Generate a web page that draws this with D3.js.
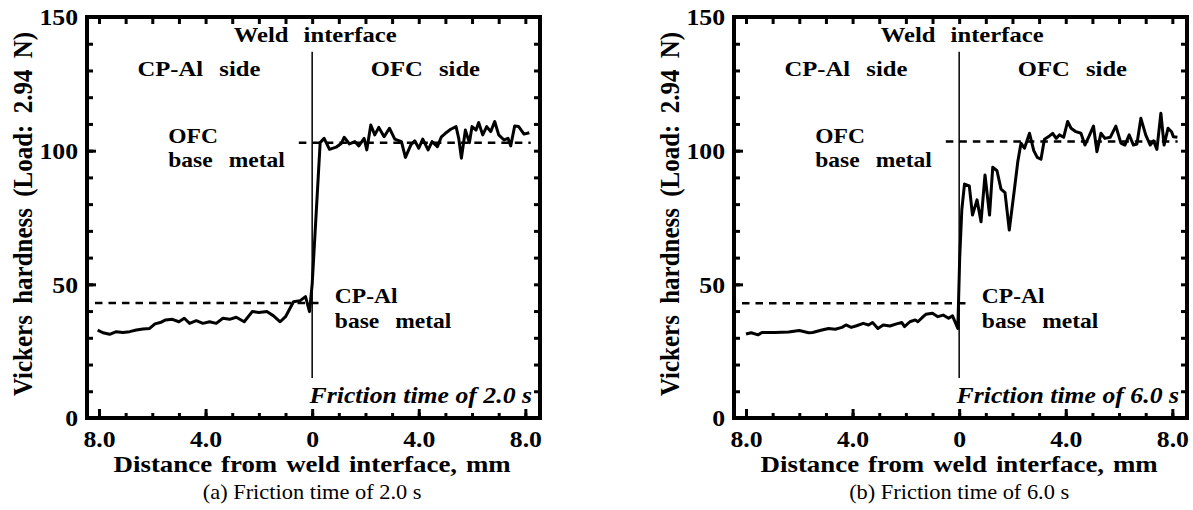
<!DOCTYPE html>
<html>
<head>
<meta charset="utf-8">
<script src="https://cdn.jsdelivr.net/npm/d3@7"></script>
<style>
  body { margin: 0; background: #fff; }
  text { font-family: "Liberation Serif", "Times New Roman", serif; fill: #000; }
</style>
</head>
<body>
<script>
// hardness profiles, distance in mm (negative = CP-Al side)
const distA = [-8.05,-7.85,-7.6,-7.35,-7.1,-6.85,-6.6,-6.35,-6.1,-5.9,-5.7,-5.5,-5.25,-5.0,-4.8,-4.6,-4.35,-4.1,-3.85,-3.6,-3.35,-3.1,-2.85,-2.55,-2.25,-2.0,-1.7,-1.45,-1.2,-1.0,-0.8,-0.7,-0.45,-0.25,-0.1,0.0,
  0.3,0.45,0.65,0.9,1.1,1.2,1.4,1.6,1.75,1.95,2.05,2.2,2.35,2.5,2.7,2.9,3.1,3.35,3.5,3.7,3.85,4.0,4.15,4.35,4.5,4.7,4.85,5.0,5.2,5.4,5.5,5.6,5.75,5.9,6.0,6.15,6.25,6.4,6.55,6.7,6.85,7.0,7.2,7.35,7.45,7.6,7.75,7.95,8.15];
const hvA = [32.9,31.9,31.3,32.3,32.0,32.3,32.9,33.3,33.5,35.2,35.7,36.7,36.9,36.0,37.3,35.4,36.4,35.4,36.0,35.4,37.3,36.9,37.7,36.0,39.8,39.5,39.8,38.2,36.0,37.9,41.6,43.5,43.9,45.4,39.8,50.0,
  103.0,104.6,100.5,101.3,102.8,105.0,102.5,103.4,101.8,104.6,100.3,109.6,105.9,108.7,105.2,108.4,104.3,103.4,97.5,102.1,103.7,100.9,104.3,100.3,103.4,101.5,105.2,106.5,108.0,109.0,104.6,97.2,107.7,103.0,109.0,107.7,110.5,105.9,109.0,107.1,110.9,105.9,104.0,104.6,101.8,109.2,109.0,106.2,106.7];

const distB = [-8.0,-7.8,-7.55,-7.4,-6.9,-6.4,-6.0,-5.65,-5.5,-5.15,-4.9,-4.65,-4.4,-4.25,-4.05,-3.85,-3.6,-3.4,-3.25,-3.05,-2.85,-2.6,-2.35,-2.15,-2.05,-1.85,-1.65,-1.55,-1.35,-1.25,-1.0,-0.8,-0.6,-0.4,-0.25,-0.05,
  0.02,0.1,0.2,0.38,0.5,0.67,0.82,0.97,1.14,1.26,1.42,1.57,1.72,1.88,2.07,2.2,2.32,2.45,2.64,2.8,2.93,3.07,3.2,3.39,3.51,3.64,3.76,3.92,4.07,4.2,4.38,4.57,4.72,4.88,5.04,5.17,5.32,5.47,5.67,5.88,6.07,6.22,6.38,6.54,6.67,6.82,7.0,7.17,7.29,7.42,7.57,7.69,7.84,7.97,8.04,8.19];
const hvB = [31.4,31.9,31.1,32.0,32.0,32.2,32.7,31.9,32.0,32.9,33.5,33.2,33.9,34.8,33.9,34.5,35.4,34.8,35.7,33.5,34.8,34.4,35.2,35.7,34.2,36.0,36.7,36.0,37.9,38.8,39.2,37.9,38.5,37.3,38.2,33.5,
  60.0,78.0,87.5,86.8,75.9,81.6,73.4,90.9,75.9,93.8,92.5,85.6,84.3,70.3,85.3,95.9,102.8,100.9,106.5,100.0,97.5,96.8,104.3,105.5,106.5,104.6,105.9,105.0,110.9,108.4,107.1,106.5,102.1,105.5,109.2,99.6,106.5,104.6,105.0,109.2,102.8,102.1,105.9,102.1,102.5,112.1,105.9,102.1,103.7,100.5,114.0,102.1,108.4,107.1,105.2,105.0];

// base metal hardness levels (dashed lines)
const ofcBase = [103.0, 103.4];
const alBase = [43.0, 42.9];
const frictionTimes = ["2.0", "6.0"];
const panelTags = ["(a)", "(b)"];

const xMajor = [-8, -4, 0, 4, 8];
const xMinor = d3.range(-8, 9, 1);
const yMajor = [0, 50, 100, 150];
const yMinor = d3.range(0, 151, 10);

const W = 1193, H = 510;
const SX = 1.12; // the original lettering is a bit wider than Times
const panelW = 453, plotTop = 17, plotBottom = 418;

const svg = d3.select("body").append("svg")
    .attr("width", W)
    .attr("height", H);

function label(g, x, y, str, o) {
  return g.append("text")
      .attr("transform", `translate(${x},${y}) scale(${SX},1)` + (o.rotate ? ` rotate(${o.rotate})` : ""))
      .attr("text-anchor", o.anchor || "start")
      .style("font-size", o.size + "px")
      .style("font-weight", o.weight || "bold")
      .style("font-style", o.italic ? "italic" : "normal")
      .style("word-spacing", (o.ws || 0) + "px")
      .text(str);
}

function panel(left, dist, hv, i) {
  const x = d3.scaleLinear().domain([-8.45, 8.55]).range([left, left + panelW]);
  const y = d3.scaleLinear().domain([0, 150]).range([plotBottom, plotTop]);
  const g = svg.append("g");

  const fmtX = d => d === 0 ? "0" : Math.abs(d).toFixed(1);

  // minor ticks
  g.append("g").attr("transform", `translate(0,${plotBottom})`)
      .call(d3.axisBottom(x).tickValues(xMinor).tickSize(-5).tickFormat(""));
  g.append("g").attr("transform", `translate(0,${plotTop})`)
      .call(d3.axisTop(x).tickValues(xMinor).tickSize(-7).tickFormat(""));
  g.append("g").attr("transform", `translate(${left},0)`)
      .call(d3.axisLeft(y).tickValues(yMinor).tickSize(-6).tickFormat(""));
  g.append("g").attr("transform", `translate(${left + panelW},0)`)
      .call(d3.axisRight(y).tickValues(yMinor).tickSize(-6).tickFormat(""));

  // major ticks with labels
  const xa = g.append("g").attr("transform", `translate(0,${plotBottom})`)
      .call(d3.axisBottom(x).tickValues(xMajor).tickSize(-9).tickPadding(13).tickFormat(fmtX));
  const ya = g.append("g").attr("transform", `translate(${left},0)`)
      .call(d3.axisLeft(y).tickValues(yMajor).tickSize(-9).tickPadding(8));

  g.selectAll(".domain").remove();
  g.selectAll(".tick line").attr("stroke", "#000").attr("stroke-width", 3);
  [xa, ya].forEach(a => a.selectAll("text")
      .attr("transform", `scale(${SX},1)`)
      .style("font-size", "23px")
      .style("font-weight", "bold")
      .attr("fill", "#000"));
  ya.selectAll("text").attr("dy", "0.34em");

  // frame
  g.append("rect")
      .attr("x", left).attr("y", plotTop)
      .attr("width", panelW).attr("height", plotBottom - plotTop)
      .attr("fill", "none")
      .attr("stroke", "#000")
      .attr("stroke-width", 4);

  // weld interface line
  g.append("line")
      .attr("x1", x(0)).attr("x2", x(0))
      .attr("y1", y(137)).attr("y2", y(15))
      .attr("stroke", "#000").attr("stroke-width", 1.5);

  // base metal levels
  g.append("line")
      .attr("x1", x(-0.5)).attr("x2", x(8.2))
      .attr("y1", y(ofcBase[i])).attr("y2", y(ofcBase[i]))
      .attr("stroke", "#000").attr("stroke-width", 2.5).attr("stroke-dasharray", "7.5,6");
  g.append("line")
      .attr("x1", x(-8.15)).attr("x2", x(0.35))
      .attr("y1", y(alBase[i])).attr("y2", y(alBase[i]))
      .attr("stroke", "#000").attr("stroke-width", 2.5).attr("stroke-dasharray", "7.5,6");

  // hardness profile
  const line = d3.line().x(d => x(d[0])).y(d => y(d[1]));
  g.append("path")
      .datum(d3.zip(dist, hv))
      .attr("d", line)
      .attr("fill", "none")
      .attr("stroke", "#000")
      .attr("stroke-width", 3)
      .attr("stroke-linejoin", "round");

  // annotations
  label(g, x(0) + 3, 42, "Weld interface", {size: 22, anchor: "middle", ws: 8});
  label(g, x(-4.25), 76, "CP-Al side", {size: 22, anchor: "middle", ws: 9});
  label(g, x(4.25), 76, "OFC side", {size: 22, anchor: "middle", ws: 9});
  label(g, x(-5.4), 143, "OFC", {size: 21});
  label(g, x(-5.4), 167, "base metal", {size: 21, ws: 9});
  label(g, x(0.85), 303, "CP-Al", {size: 21});
  label(g, x(0.85), 328, "base metal", {size: 21, ws: 9});
  label(g, x(8.25), 403, `Friction time of ${frictionTimes[i]} s`, {size: 23, anchor: "end", italic: true});

  // axis titles
  label(g, x(0), 472, "Distance from weld interface, mm", {size: 24, anchor: "middle", ws: 2});
  label(g, left - 55, 214, "Vickers hardness (Load: 2.94 N)", {size: 25, anchor: "middle", rotate: -90, ws: 5});

  // caption
  label(g, x(0), 499, `${panelTags[i]} Friction time of ${frictionTimes[i]} s`, {size: 20, anchor: "middle", weight: "normal"});
}

panel(87, distA, hvA, 0);
panel(734, distB, hvB, 1);
</script>
</body>
</html>
